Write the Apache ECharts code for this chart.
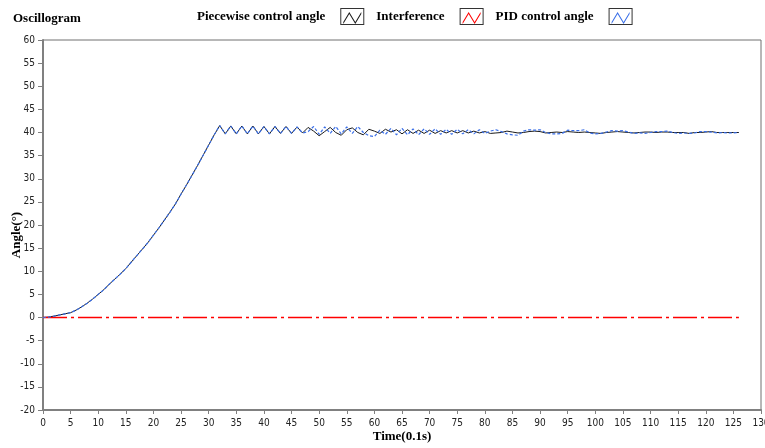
<!DOCTYPE html>
<html>
<head>
<meta charset="utf-8">
<script src="https://cdn.jsdelivr.net/npm/echarts@6/dist/echarts.min.js"></script>
<style>html,body{margin:0;padding:0;background:#fff}#c{width:765px;height:448px}</style>
</head>
<body>
<div id="c"></div>
<script>
// time in units of 0.1 s
var time = [];
for (var i = 0; i <= 126; i++) time.push(i);

var piecewise = [
  0,0.1,0.3,0.55,0.8,1.05,1.6,2.3,3.1,4.0,5.0,6.0,7.2,8.3,9.4,10.6,12.0,13.4,14.8,16.2,17.8,19.4,21.1,22.8,24.6,26.7,28.7,30.8,32.9,35.1,37.3,39.5,41.5,
  39.7,41.4,39.7,41.4,39.7,41.4,39.7,41.3,39.7,41.3,39.8,41.3,39.8,41.2,39.9,
  41.1,40.3,39.3,40.2,41.1,40.0,39.4,40.6,41.0,40.0,39.5,40.7,40.3,39.8,40.7,40.1,
  40.6,39.7,40.6,39.8,40.5,39.8,40.5,39.8,40.4,39.9,40.4,39.9,40.4,39.9,40.3,39.9,40.2,39.8,
  39.9,40.0,40.3,40.1,39.9,40.0,40.2,40.3,40.2,39.9,40.0,40.1,40.0,40.2,40.1,40.0,40.1,40.0,
  39.9,39.8,40.0,40.1,40.2,40.1,40.0,39.9,40.0,40.1,40.1,40.0,40.1,40.1,40.0,40.0,40.0,
  39.8,40.0,40.0,40.1,40.2,40.0,40.0,40.0,40.0,40.0
];

var interference = [];
for (var j = 0; j <= 126; j++) interference.push(0);

var pid = [
  0,0.1,0.3,0.55,0.8,1.05,1.6,2.3,3.1,4.0,5.0,6.0,7.2,8.3,9.4,10.6,12.0,13.4,14.8,16.2,17.8,19.4,21.1,22.8,24.6,26.7,28.7,30.8,32.9,35.1,37.3,39.5,41.5,
  39.7,41.4,39.7,41.4,39.7,41.4,39.7,41.3,39.7,41.3,39.8,41.3,39.8,41.2,39.9,
  40.2,41.3,39.6,41.2,39.8,41.3,39.7,41.2,39.8,41.3,40.0,39.3,39.1,40.5,39.6,40.9,
  39.5,40.9,39.5,40.8,39.5,40.8,39.6,40.8,39.6,40.7,39.6,40.7,39.7,40.6,39.7,40.6,39.8,40.3,
  40.6,40.2,39.7,39.5,39.4,40.3,40.6,40.5,40.6,40.0,39.7,39.7,39.8,40.5,40.4,40.4,40.6,39.9,
  39.7,39.8,40.1,40.4,40.3,40.4,40.1,39.8,39.9,39.8,40.0,40.2,40.2,40.3,40.0,39.8,39.9,
  39.8,39.9,40.2,40.2,40.1,39.9,40.0,39.9,39.9,40.0
];

var seriesNames = ['Piecewise control angle', 'Interference', 'PID control angle'];
var seriesColors = ['#1a1a1a', '#ff0000', '#3a6fe8'];

function zip(xs, ys) { return xs.map(function (x, k) { return [x, ys[k]]; }); }

var serif = "'Liberation Serif', 'Times New Roman', serif";
var narrow = "'Liberation Sans Narrow', 'DejaVu Sans Condensed', 'Liberation Sans', sans-serif";

var anchors = 'M0,0 L0.01,0 L0,0.01 Z M34,17 L33.99,17 L34,16.99 Z ';
var boxIcon = 'path://' + anchors + 'M10,0 H34 V17 H10 Z M11,1 V16 H33 V1 Z';
var zigIcon = 'path://' + anchors + 'M13,14 L19,4 L25,14 L31,4 L31,6 L25,16 L19,6 L13,16 Z';

var chart = echarts.init(document.getElementById('c'), null, { renderer: 'canvas' });
chart.setOption({
  animation: false,
  backgroundColor: '#fff',
  title: {
    text: 'Oscillogram', left: 8, top: 7,
    textStyle: { fontFamily: serif, fontWeight: 'bold', fontSize: 13, color: '#000' }
  },
  legend: [
    {
      left: 197, top: 8, padding: 0, align: 'right', itemGap: 12, itemWidth: 34, itemHeight: 17,
      selectedMode: false, z: 4,
      itemStyle: { color: '#333', borderWidth: 0 },
      textStyle: { fontFamily: serif, fontWeight: 'bold', fontSize: 13, color: '#000' },
      icon: boxIcon,
      data: seriesNames
    },
    {
      left: 197, top: 8, padding: 0, align: 'right', itemGap: 12, itemWidth: 34, itemHeight: 17,
      selectedMode: false, z: 5,
      itemStyle: { borderWidth: 0 },
      textStyle: { fontFamily: serif, fontWeight: 'bold', fontSize: 13, color: 'rgba(0,0,0,0)' },
      icon: zigIcon,
      data: seriesNames
    }
  ],
  grid: {
    left: 43, right: 4, top: 40, bottom: 38, outerBoundsMode: 'none', containLabel: false,
    show: true, borderColor: '#707070', borderWidth: 1, backgroundColor: '#fff'
  },
  xAxis: {
    type: 'value', min: 0, max: 130, interval: 5,
    name: 'Time(0.1s)', nameLocation: 'middle', nameGap: 20, nameMoveOverlap: false,
    nameTextStyle: { fontFamily: serif, fontWeight: 'bold', fontSize: 13, color: '#000' },
    axisLine: { show: true, onZero: false, lineStyle: { color: '#808080', width: 2 } },
    axisTick: { show: true, length: 4, lineStyle: { color: '#808080' } },
    axisLabel: { fontFamily: narrow, fontSize: 10, color: '#222', margin: 8 },
    splitLine: { show: false }
  },
  yAxis: {
    type: 'value', min: -20, max: 60, interval: 5,
    name: 'Angle(°)', nameLocation: 'middle', nameGap: 20, nameRotate: 90, nameMoveOverlap: false,
    nameTextStyle: { fontFamily: serif, fontWeight: 'bold', fontSize: 13, color: '#000', padding: [0, 20, 0, 0] },
    axisLine: { show: true, onZero: false, lineStyle: { color: '#808080', width: 2 } },
    axisTick: { show: true, length: 5, lineStyle: { color: '#808080' } },
    axisLabel: { fontFamily: narrow, fontSize: 10, color: '#222', margin: 8 },
    splitLine: { show: false }
  },
  series: [
    {
      name: seriesNames[0], type: 'line', data: zip(time, piecewise),
      showSymbol: false, symbol: 'none',
      itemStyle: { color: seriesColors[0] },
      lineStyle: { color: seriesColors[0], width: 1 }, z: 2
    },
    {
      name: seriesNames[1], type: 'line', data: zip(time, interference),
      showSymbol: false, symbol: 'none',
      itemStyle: { color: seriesColors[1] },
      lineStyle: { color: seriesColors[1], width: 1.5, type: [24, 4, 3, 4] }, z: 3
    },
    {
      name: seriesNames[2], type: 'line', data: zip(time, pid),
      showSymbol: false, symbol: 'none',
      itemStyle: { color: seriesColors[2] },
      lineStyle: { color: seriesColors[2], width: 1.2, type: [3, 2] }, z: 4
    }
  ]
});
</script>
</body>
</html>
